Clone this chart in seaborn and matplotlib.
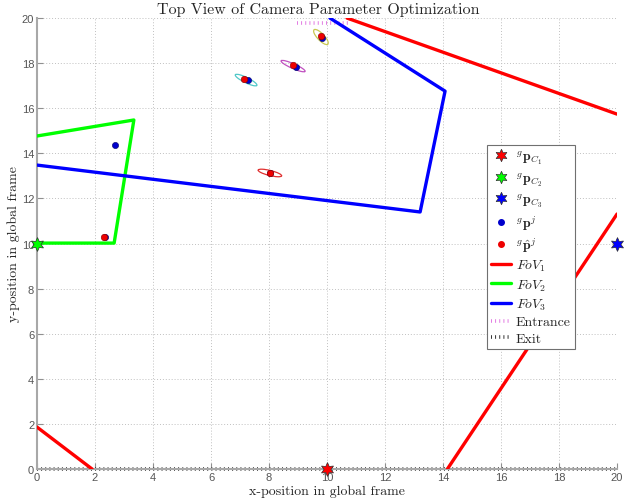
import numpy as np
import pandas as pd
import matplotlib
matplotlib.use("Agg")
import matplotlib.pyplot as plt
import seaborn as sns
from matplotlib.patches import Ellipse
from matplotlib.lines import Line2D

# ── data ──
cam_x = [10, 0, 20]
cam_y = [0, 10, 10]
cam_colors = ["#ff0000", "#00ff00", "#0000ff"]

p_x = [7.28, 8.93, 9.83, 2.69, 8.03, 2.33]
p_y = [17.24, 17.85, 19.13, 14.37, 13.13, 10.28]
phat_x = [7.15, 8.83, 9.79, 2.31, 8.03]
phat_y = [17.30, 17.92, 19.20, 10.29, 13.13]

fov1_segments = [
    ([0.0, 1.9], [1.86, 0.0]),
    ([14.15, 20.0], [0.0, 11.31]),
    ([10.69, 20.0], [20.0, 15.74]),
]
fov2_x = [0.0, 3.34, 2.66, 0.0]
fov2_y = [14.77, 15.48, 10.02, 10.02]
fov3_x = [0.0, 13.21, 14.07, 10.1]
fov3_y = [13.48, 11.40, 16.76, 20.0]

entrance_x = [8.97, 10.8]
entrance_y = [19.8, 19.8]
exit_x = [0, 20]
exit_y = [0, 0]

ell_x = [7.21, 8.83, 9.79, 8.03]
ell_y = [17.25, 17.87, 19.16, 13.13]
ell_w = [0.88, 0.95, 0.80, 0.85]
ell_h = [0.22, 0.20, 0.26, 0.22]
ell_ang = [-33, -30, -55, -18]
ell_colors = ["#50c8c8", "#c050c0", "#c8c850", "#e03030"]

ticks = list(range(0, 21, 2))

# ── style ──
sns.set_theme(style="white")
plt.rcParams["mathtext.fontset"] = "cm"
plt.rcParams["font.family"] = ["Liberation Sans", "DejaVu Sans"]

fig = plt.figure(figsize=(6.29, 5.02), dpi=100)
ax = fig.add_axes([0.0588, 0.0637, 0.9222, 0.8983])

# exit / entrance lines (dotted bars)
ax.plot(exit_x, exit_y, color="#202020", lw=2.6, dashes=(0.25, 0.9),
        dash_capstyle="butt", clip_on=False, zorder=2)
ax.plot(entrance_x, entrance_y, color="#e070e0", lw=2.6, dashes=(0.25, 0.9),
        dash_capstyle="butt", zorder=2)

# fields of view
for sx, sy in fov1_segments:
    sns.lineplot(x=sx, y=sy, ax=ax, color="#ff0000", lw=2.4, sort=False,
                 estimator=None, zorder=3)
sns.lineplot(x=fov2_x, y=fov2_y, ax=ax, color="#00ff00", lw=2.4, sort=False,
             estimator=None, zorder=3)
sns.lineplot(x=fov3_x, y=fov3_y, ax=ax, color="#0000ff", lw=2.4, sort=False,
             estimator=None, zorder=3)

# uncertainty ellipses
for cx, cy, w, h, a, c in zip(ell_x, ell_y, ell_w, ell_h, ell_ang, ell_colors):
    ax.add_patch(Ellipse((cx, cy), w, h, angle=a, fill=False, ec=c, lw=0.9,
                         zorder=4))

# points
ax.scatter(p_x, p_y, s=20, color="#0000cc", edgecolor="#000066", lw=0.4,
           zorder=5)
ax.scatter(phat_x, phat_y, s=22, color="#ee0000", edgecolor="#880000",
           lw=0.4, zorder=6)

# cameras
cams = pd.DataFrame({"x": cam_x, "y": cam_y, "c": cam_colors})
for _, r in cams.iterrows():
    ax.plot(r["x"], r["y"], marker=(6, 1, 0), ms=10, color=r["c"],
            mec="#303030", mew=0.5, ls="none", clip_on=False, zorder=7)

# axes
ax.set_xlim(0, 20)
ax.set_ylim(0, 20)
ax.set_xticks(ticks)
ax.set_yticks(ticks)
ax.grid(True, ls=(0, (1, 2)), color="#c0c0c0", lw=0.7)
for s in ["top", "right"]:
    ax.spines[s].set_visible(False)
for s in ["left", "bottom"]:
    ax.spines[s].set_color("#a8a8a8")
    ax.spines[s].set_linewidth(1.5)
ax.tick_params(direction="in", length=4, width=0.8, color="#909090",
               labelcolor="#555555", labelsize=8, pad=2,
               left=True, bottom=True)

serif = "cmr10"
ax.set_title("Top View of Camera Parameter Optimization", family=serif,
             fontsize=11.5, pad=4, x=0.485)
ax.set_xlabel("x-position in global frame", family=serif, fontsize=10,
              labelpad=2)
ax.set_ylabel("y-position in global frame", family=serif, fontsize=10,
              labelpad=1)

# legend
star = dict(marker=(6, 1, 0), ms=9, ls="none", mec="#303030", mew=0.5)
handles = [
    Line2D([], [], color="#ff0000", **star),
    Line2D([], [], color="#00ff00", **star),
    Line2D([], [], color="#0000ff", **star),
    Line2D([], [], marker="o", ms=4, ls="none", color="#0000cc"),
    Line2D([], [], marker="o", ms=4, ls="none", color="#ee0000"),
    Line2D([], [], color="#ff0000", lw=2.4),
    Line2D([], [], color="#00ff00", lw=2.4),
    Line2D([], [], color="#0000ff", lw=2.4),
    Line2D([], [], color="#e070e0", lw=2.6, dashes=(0.25, 0.9),
           dash_capstyle="butt"),
    Line2D([], [], color="#202020", lw=2.6, dashes=(0.25, 0.9),
           dash_capstyle="butt"),
]
labels = [
    r"${}^{g}\mathbf{p}_{C_1}$",
    r"${}^{g}\mathbf{p}_{C_2}$",
    r"${}^{g}\mathbf{p}_{C_3}$",
    r"${}^{g}\mathbf{p}^{j}$",
    r"${}^{g}\hat{\mathbf{p}}^{j}$",
    r"$FoV_1$",
    r"$FoV_2$",
    r"$FoV_3$",
    "Entrance",
    "Exit",
]
leg = ax.legend(handles, labels, loc="upper left",
                bbox_to_anchor=(0.764, 0.735), frameon=True, fancybox=False,
                edgecolor="#707070", framealpha=1, handlelength=1.45,
                handletextpad=0.3, borderpad=0.3, labelspacing=0.28,
                prop={"family": serif, "size": 10})
leg.get_frame().set_linewidth(0.8)
leg.set_zorder(10)

fig.savefig("out.png", dpi=100)
